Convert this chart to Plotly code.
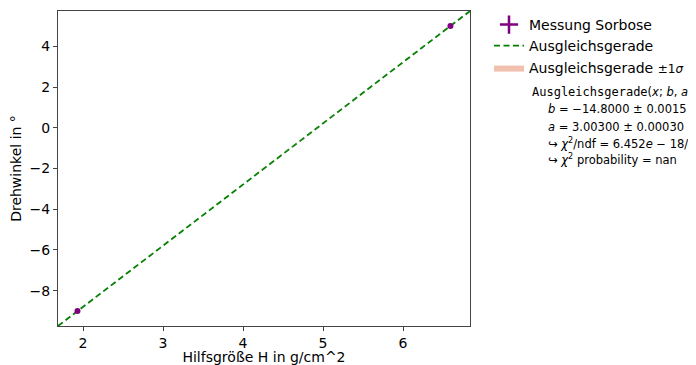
import plotly.graph_objects as go

# data
x_meas = [1.931, 6.593]
y_meas = [-9.0, 5.0]
fit_b, fit_b_err = -14.8000, 0.0015
fit_a, fit_a_err = 3.00300, 0.00030
x_line = [1.6875, 6.8375]
y_line = [fit_a * v + fit_b for v in x_line]
y_lo = [(fit_a - fit_a_err) * v + fit_b - fit_b_err for v in x_line]
y_hi = [(fit_a + fit_a_err) * v + fit_b + fit_b_err for v in x_line]
x_ticks = [2, 3, 4, 5, 6]
y_ticks = [-8, -6, -4, -2, 0, 2, 4]
y_ticklabels = ["−8", "−6", "−4", "−2", "0", "2", "4"]

FONT = "DejaVu Sans"
OFF = 8  # page body margin in browser
W, H = 696 - OFF, 365 - OFF
PL, PR, PT, PB = 58, 470, 11, 326  # plot box in screen pixels

fig = go.Figure()

fig.add_trace(go.Scatter(x=[None], y=[None], mode="markers", name="Messung Sorbose",
                         legend="legend",
                         marker=dict(symbol="cross-thin", size=13, color="purple",
                                     line=dict(width=2.5, color="purple"))))
fig.add_trace(go.Scatter(x=x_line, y=y_line, mode="lines", name="Ausgleichsgerade",
                         legend="legend2",
                         line=dict(color="green", width=1.8, dash="6px,3.5px")))
fig.add_trace(go.Scatter(x=x_line + x_line[::-1], y=y_hi + y_lo[::-1], fill="toself",
                         legend="legend3",
                         mode="lines", line=dict(width=0), fillcolor="rgba(233,150,122,0.6)",
                         name="Ausgleichsgerade <span style='font-size:12px'>±1<i>σ</i></span>"))
fig.add_trace(go.Scatter(x=x_meas, y=y_meas, mode="markers", showlegend=False,
                         marker=dict(symbol="circle", size=6, color="purple")))

def px2paper(px, py):
    return (px - PL) / (PR - PL), 1 - (py - PT) / (PB - PT)

ann = [
    ("<span style='font-family:DejaVu Sans Mono;font-size:12px'>Ausgleichsgerade</span>(<i>x</i>; <i>b</i>, <i>a</i>)", 530, 92),
    ("<i>b</i> = −14.8000 ± 0.0015", 546, 109),
    ("<i>a</i> = 3.00300 ± 0.00030", 546, 127),
    ("↪ <i>χ</i><sup>2</sup>/ndf = 6.452<i>e</i> − 18/0", 546, 143),
    ("↪ <i>χ</i><sup>2</sup> probability = nan", 546, 159),
]
annotations = []
for t, px, py in ann:
    ax, ay = px2paper(px, py)
    annotations.append(dict(text=t, xref="paper", yref="paper", x=ax, y=ay,
                            xanchor="left", yanchor="middle", showarrow=False,
                            font=dict(family=FONT, size=11.5, color="black")))

def leg(py):
    lx, ly = px2paper(489, py)
    return dict(x=lx, y=ly, xanchor="left", yanchor="middle",
                font=dict(family=FONT, size=14), itemwidth=30,
                bgcolor="rgba(0,0,0,0)", borderwidth=0)

fig.update_layout(
    width=W, height=H,
    margin=dict(l=PL - OFF, r=W - (PR - OFF), t=PT - OFF, b=H - (PB - OFF), autoexpand=False),
    paper_bgcolor="white", plot_bgcolor="white",
    font=dict(family=FONT, size=14, color="black"),
    legend=leg(25), legend2=leg(46), legend3=leg(68),
    annotations=annotations,
)
fig.update_xaxes(range=x_line, tickvals=x_ticks, ticks="outside", ticklen=4,
                 showline=True, mirror=True, linecolor="#444", linewidth=1,
                 showgrid=False, zeroline=False,
                 title=dict(text="Hilfsgröße H in g/cm^2", font=dict(size=14), standoff=4),
                 tickfont=dict(size=14))
fig.update_yaxes(range=[y_line[0], y_line[1]], tickvals=y_ticks, ticktext=y_ticklabels,
                 ticks="outside", ticklen=4,
                 showline=True, mirror=True, linecolor="#444", linewidth=1,
                 showgrid=False, zeroline=False,
                 title=dict(text="Drehwinkel in °", font=dict(size=14), standoff=5),
                 tickfont=dict(size=14))

fig.write_html("out.html")
